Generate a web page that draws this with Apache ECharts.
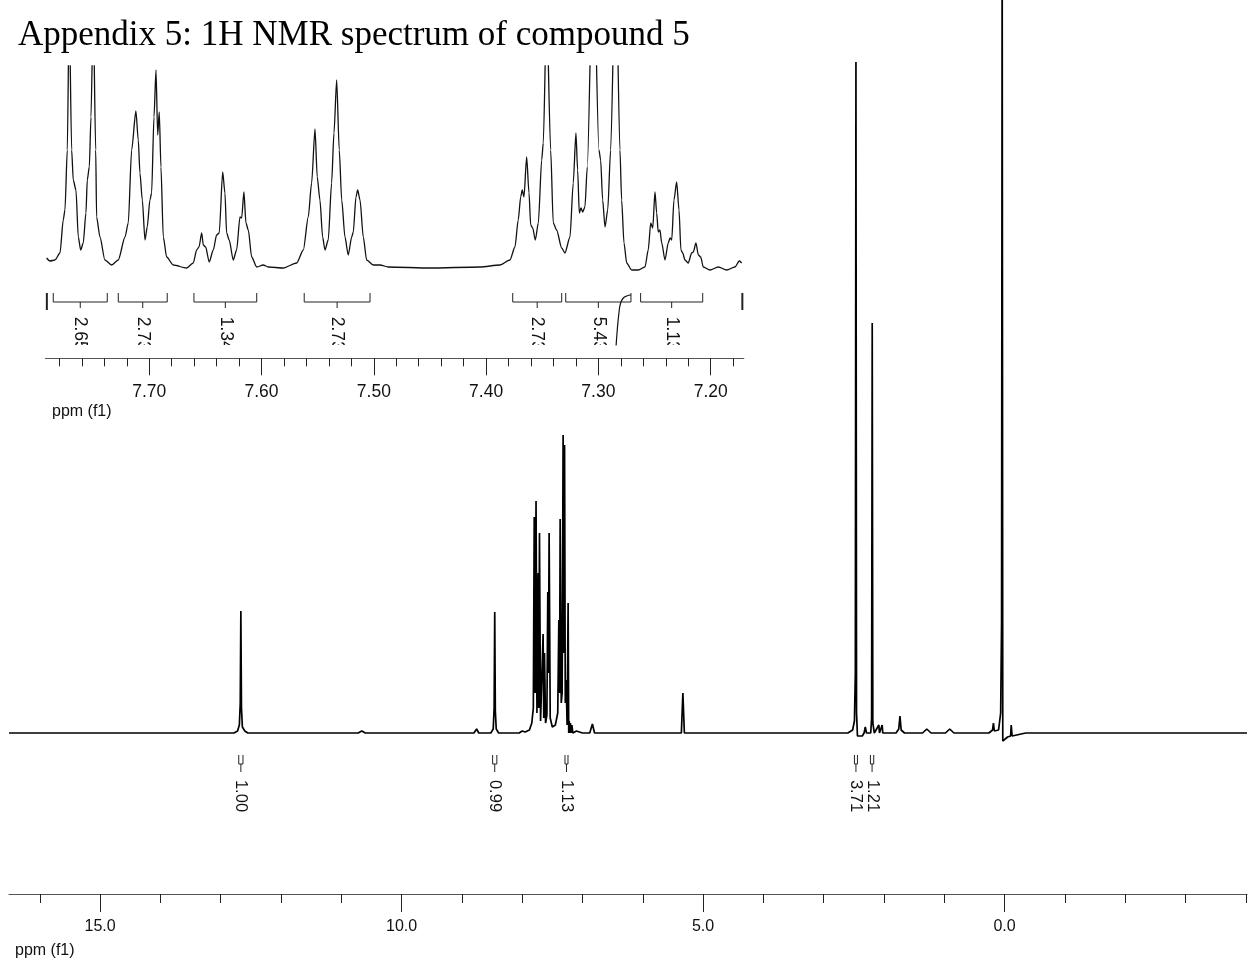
<!DOCTYPE html>
<html>
<head>
<meta charset="utf-8">
<script src="https://cdn.jsdelivr.net/npm/echarts@6/dist/echarts.min.js"></script>
<style>
  html, body { margin: 0; padding: 0; background: #fff; }
  #chart { width: 1248px; height: 960px; }
</style>
</head>
<body>
<div id="chart"></div>
<script>
var titleText = 'Appendix 5: 1H NMR spectrum of compound 5';

// full spectrum, [ppm, intensity]
var mainTrace = [
  [16.51,0],[12.78,0],[12.72,2],[12.69,8],[12.675,30],[12.665,122],[12.655,25],[12.64,6],[12.60,2],[12.55,0],
  [10.72,0],[10.66,2],[10.60,0],
  [8.80,0],[8.755,4],[8.72,0],
  [8.52,0],[8.48,4],[8.465,25],[8.455,121],[8.445,22],[8.43,4],[8.39,0],
  [8.05,0],[8.00,2],[7.95,1],
  [7.88,3],[7.84,10],[7.815,25],[7.80,216],[7.785,40],[7.77,232],[7.755,20],[7.735,160],[7.725,25],[7.713,200],
  [7.695,12],[7.665,12],[7.653,99],[7.642,15],[7.630,80],[7.612,10],[7.59,18],[7.575,141],[7.565,60],[7.553,200],
  [7.535,15],[7.50,6],[7.45,8],[7.41,20],[7.392,113],[7.38,40],[7.370,214],[7.352,30],[7.337,40],[7.321,298],
  [7.309,80],[7.297,288],[7.285,30],[7.27,53],[7.255,8],[7.238,130],[7.228,0],[7.22,12],[7.21,0],[7.20,10],
  [7.19,0],[7.175,8],[7.16,0],[7.10,2],[7.00,0],
  [6.88,0],[6.835,9],[6.80,0],
  [5.36,0],[5.335,40],[5.31,0],
  [2.60,0],[2.52,3],[2.49,12],[2.475,60],[2.465,671],[2.455,20],[2.44,-3],[2.36,-3],[2.33,0],[2.31,6],[2.29,0],
  [2.22,0],[2.205,15],[2.195,410],[2.185,10],[2.16,0],[2.085,8],[2.075,0],[2.03,8],[2.02,0],
  [1.80,0],[1.755,4],[1.735,17],[1.715,3],[1.66,0],
  [1.36,0],[1.29,4],[1.22,0],
  [0.98,0],[0.91,4],[0.84,0],
  [0.26,0],[0.20,3],[0.185,10],[0.17,2],[0.10,3],[0.065,20],[0.05,110],[0.04,800],[0.03,-8],[0.00,-7],
  [-0.05,-4],[-0.10,-3],[-0.11,8],[-0.125,-3],[-0.20,-2],[-0.35,0],[-4.02,0]
];

// expanded aromatic region, [ppm, intensity]
var insetTrace = [
  [7.7914,10],[7.7884,7],[7.7840,8],[7.7795,15],[7.7766,48],[7.7751,58],[7.7730,118],[7.7713,260],[7.7691,118],
  [7.7677,88],[7.7653,78],[7.7632,31],[7.7611,18],[7.7588,25],[7.7564,55],[7.7552,88],[7.7534,101],[7.7519,151],
  [7.7499,260],[7.7477,118],[7.7469,51],[7.7439,31],[7.7395,8],[7.7335,3],[7.7276,8],[7.7216,31],[7.7187,45],
  [7.7157,118],[7.7119,157],[7.7098,128],[7.7083,95],[7.7062,68],[7.7038,28],[7.7018,41],[7.6994,68],[7.6979,75],
  [7.6958,151],[7.6940,198],[7.6925,133],[7.6911,156],[7.6896,101],[7.6875,31],[7.6845,11],[7.6786,3],[7.6667,0],
  [7.6608,5],[7.6578,18],[7.6557,21],[7.6533,35],[7.6519,23],[7.6498,21],[7.6466,6],[7.6430,18],[7.6400,33],
  [7.6377,35],[7.6346,96],[7.6326,75],[7.6311,35],[7.6288,28],[7.6252,8],[7.6222,18],[7.6192,51],[7.6177,50],
  [7.6157,76],[7.6139,45],[7.6118,38],[7.6088,11],[7.6043,1],[7.5985,3],[7.5940,1],[7.5807,0],[7.5687,5],
  [7.5628,18],[7.5584,51],[7.5554,85],[7.5524,139],[7.5504,91],[7.5480,68],[7.5456,31],[7.5435,18],[7.5406,28],
  [7.5376,85],[7.5355,135],[7.5331,188],[7.5308,118],[7.5286,68],[7.5257,31],[7.5228,13],[7.5197,31],[7.5183,36],
  [7.5159,71],[7.5144,78],[7.5123,68],[7.5094,31],[7.5064,8],[7.5005,3],[7.4945,3],[7.4871,1],[7.4500,0],
  [7.4055,1],[7.3877,3],[7.3788,8],[7.3743,21],[7.3714,48],[7.3692,71],[7.3678,78],[7.3663,71],[7.3639,111],
  [7.3618,75],[7.3603,43],[7.3585,40],[7.3562,28],[7.3535,45],[7.3505,108],[7.3491,125],[7.3461,260],[7.3425,118],
  [7.3402,45],[7.3372,38],[7.3327,20],[7.3298,15],[7.3253,31],[7.3224,85],[7.3200,135],[7.3185,98],[7.3170,55],
  [7.3155,60],[7.3140,56],[7.3120,61],[7.3099,101],[7.3046,330],[7.2995,118],[7.2980,108],[7.2962,68],[7.2941,41],
  [7.2917,58],[7.2891,118],[7.2846,320],[7.2808,118],[7.2793,68],[7.2772,25],[7.2748,5],[7.2704,-2],[7.2645,-2],
  [7.2585,1],[7.2556,18],[7.2534,45],[7.2516,40],[7.2496,76],[7.2481,55],[7.2467,36],[7.2452,38],[7.2436,25],
  [7.2407,8],[7.2378,25],[7.2362,30],[7.2347,28],[7.2327,68],[7.2303,86],[7.2282,58],[7.2265,18],[7.2249,15],
  [7.2229,8],[7.2200,5],[7.2169,15],[7.2155,16],[7.2131,25],[7.2110,13],[7.2089,11],[7.2066,1],[7.2006,-2],
  [7.1932,1],[7.1857,-2],[7.1784,1],[7.1745,7],[7.1724,5]
];

// integrals: [label, from ppm, to ppm]
var mainIntegrals = [
  ['1.00', 12.70, 12.63],
  ['0.99', 8.49, 8.42],
  ['1.13', 7.29, 7.24],
  ['3.71', 2.49, 2.44],
  ['1.21', 2.225, 2.17]
];
var insetIntegrals = [
  ['2.65', 7.7855, 7.7374],
  ['2.73', 7.7276, 7.6840],
  ['1.34', 7.6602, 7.6043],
  ['2.73', 7.5620, 7.5034],
  ['2.73', 7.3763, 7.3327],
  ['5.43', 7.3291, 7.2710],
  ['1.13', 7.2624, 7.2071]
];
var insetEdgeBars = [7.7912, 7.1718];
var integralCurve = [[7.2843,-2],[7.2832,15],[7.2817,32],[7.2802,42],[7.2778,47],[7.2748,49],[7.2710,50]];

// ticks
var mainMinorTicks = [-4,-3,-2,-1,0,1,2,3,4,5,6,7,8,9,10,11,12,13,14,15,16];
var mainMajorTicks = [0, 5, 10, 15];
var insetMinorTicks = [7.18,7.20,7.22,7.24,7.26,7.28,7.30,7.32,7.34,7.36,7.38,7.40,7.42,7.44,7.46,7.48,
  7.50,7.52,7.54,7.56,7.58,7.60,7.62,7.64,7.66,7.68,7.70,7.72,7.74,7.76,7.78];
var insetMajorTicks = [7.2, 7.3, 7.4, 7.5, 7.6, 7.7];

var sansFont = '"Liberation Sans", Arial, sans-serif';

function bracketRenderer(isInset, fontSize, list) {
  return function (params, api) {
    var cs = params.coordSys;
    var x1 = api.coord([api.value(0), 0])[0];
    var x2 = api.coord([api.value(1), 0])[0];
    var xc = (x1 + x2) / 2;
    var base = isInset ? cs.y : api.coord([0, 0])[1];
    var top = base + (isInset ? 8 : 22);
    var mid = base + (isInset ? 17 : 31);
    var bot = base + (isInset ? 23 : 39);
    var ty = base + (isInset ? 48.7 : 63);
    var stroke = { stroke: '#222', lineWidth: 1, fill: null };
    return {
      type: 'group',
      children: [
        { type: 'polyline', shape: { points: [[x1, top], [x1, mid], [x2, mid], [x2, top]] }, style: stroke },
        { type: 'line', shape: { x1: xc, y1: mid, x2: xc, y2: bot }, style: stroke },
        {
          type: 'text', x: xc, y: ty, rotation: -Math.PI / 2,
          style: {
            text: list[params.dataIndex][0], fill: '#111',
            font: fontSize + 'px ' + sansFont, align: 'center', verticalAlign: 'middle'
          }
        }
      ]
    };
  };
}

var chart = echarts.init(document.getElementById('chart'));

var option = {
  animation: false,
  backgroundColor: '#fff',
  graphic: [
    { type: 'text', left: 18, top: 18, style: { text: titleText, font: '35px "Liberation Serif", "Times New Roman", serif', fill: '#000' } },
    { type: 'text', left: 15, top: 943, style: { text: 'ppm (f1)', font: '16px ' + sansFont, fill: '#111' } },
    { type: 'text', left: 52, top: 404, style: { text: 'ppm (f1)', font: '16px ' + sansFont, fill: '#111' } }
  ],
  grid: [
    { left: 9, right: 1, top: 0, bottom: 66 },
    { left: 45.4, right: 504.2, top: 66, bottom: 601.7 },
    { left: 45.4, right: 504.2, top: 285, bottom: 615 }
  ],
  xAxis: [
    {
      type: 'value', gridIndex: 0, position: 'bottom', min: -4.02, max: 16.51, inverse: true,
      axisLine: { onZero: false, lineStyle: { color: '#555', width: 1.2 } },
      axisTick: { customValues: mainMinorTicks, length: 9, lineStyle: { color: '#222' } },
      axisLabel: { show: false }, splitLine: { show: false }
    },
    {
      type: 'value', gridIndex: 0, position: 'bottom', min: -4.02, max: 16.51, inverse: true,
      axisLine: { show: false, onZero: false },
      axisTick: { customValues: mainMajorTicks, length: 18, lineStyle: { color: '#222' } },
      axisLabel: {
        customValues: mainMajorTicks, margin: 25, fontSize: 16, fontFamily: sansFont, color: '#111',
        formatter: function (v) { return v.toFixed(1); }
      },
      splitLine: { show: false }
    },
    {
      type: 'value', gridIndex: 1, position: 'bottom', min: 7.1705, max: 7.7925, inverse: true,
      axisLine: { onZero: false, lineStyle: { color: '#555', width: 1.2 } },
      axisTick: { customValues: insetMinorTicks, length: 8, lineStyle: { color: '#222' } },
      axisLabel: { show: false }, splitLine: { show: false }
    },
    {
      type: 'value', gridIndex: 1, position: 'bottom', min: 7.1705, max: 7.7925, inverse: true,
      axisLine: { show: false, onZero: false },
      axisTick: { customValues: insetMajorTicks, length: 17, lineStyle: { color: '#222' } },
      axisLabel: {
        customValues: insetMajorTicks, margin: 25, fontSize: 17.5, fontFamily: sansFont, color: '#111',
        formatter: function (v) { return v.toFixed(2); }
      },
      splitLine: { show: false }
    },
    { type: 'value', gridIndex: 2, show: false, min: 7.1705, max: 7.7925, inverse: true }
  ],
  yAxis: [
    { type: 'value', gridIndex: 0, show: false, min: -161, max: 733 },
    { type: 'value', gridIndex: 1, show: false, min: -90.3, max: 202 },
    { type: 'value', gridIndex: 2, show: false, min: 0, max: 60 }
  ],
  series: [
    {
      type: 'line', xAxisIndex: 0, yAxisIndex: 0, data: mainTrace, showSymbol: false,
      lineStyle: { color: '#000', width: 1.7 }, clip: true
    },
    {
      type: 'custom', xAxisIndex: 0, yAxisIndex: 0,
      data: mainIntegrals.map(function (d) { return [d[1], d[2]]; }),
      encode: { x: [0, 1] },
      renderItem: bracketRenderer(false, 16.5, mainIntegrals)
    },
    {
      type: 'line', xAxisIndex: 2, yAxisIndex: 1, data: insetTrace, showSymbol: false,
      smooth: 0.25, smoothMonotone: 'x',
      lineStyle: { color: '#111', width: 1.3 }, clip: true
    },
    {
      type: 'custom', xAxisIndex: 4, yAxisIndex: 2, clip: true,
      data: insetIntegrals.map(function (d) { return [d[1], d[2]]; }),
      encode: { x: [0, 1] },
      renderItem: bracketRenderer(true, 17.5, insetIntegrals)
    },
    {
      type: 'custom', xAxisIndex: 4, yAxisIndex: 2, clip: true,
      data: insetEdgeBars,
      renderItem: function (params, api) {
        var x = api.coord([api.value(0), 0])[0];
        var cs = params.coordSys;
        return { type: 'line', shape: { x1: x, y1: cs.y + 8, x2: x, y2: cs.y + 25 }, style: { stroke: '#222', lineWidth: 2 } };
      }
    },
    {
      type: 'line', xAxisIndex: 4, yAxisIndex: 2, data: integralCurve, showSymbol: false, smooth: true,
      lineStyle: { color: '#111', width: 1.2 }, clip: true
    }
  ]
};

chart.setOption(option);
</script>
</body>
</html>
